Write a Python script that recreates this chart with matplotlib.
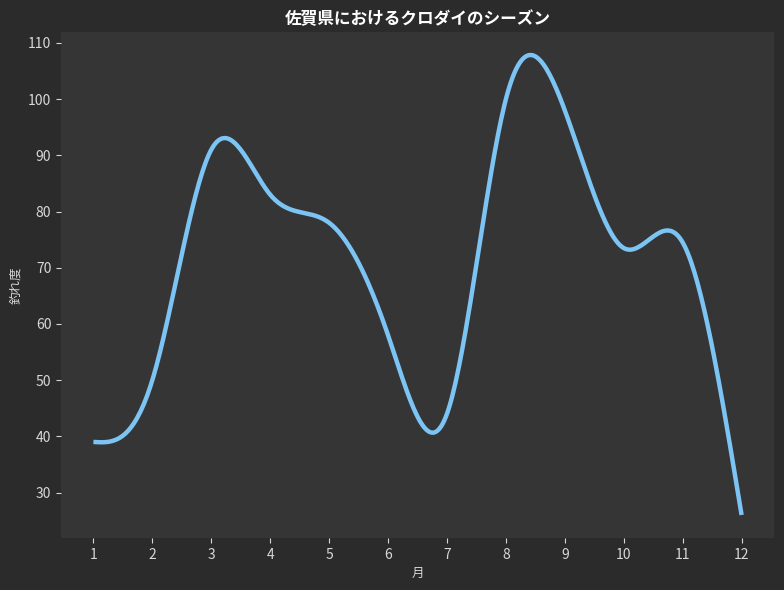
import numpy as np
import matplotlib
matplotlib.use("Agg")
from matplotlib import pyplot as plt
from matplotlib.ticker import MultipleLocator

plt.rcParams["font.family"] = ["Noto Sans CJK JP", "DejaVu Sans"]

months = [1, 2, 3, 4, 5, 6, 7, 8, 9, 10, 11, 12]
score = [39, 50, 91, 83, 78, 58, 44, 100, 98, 73.5, 74.5, 26]


def spline(x, y, n=400):
    # natural cubic spline, uniform spacing
    x = np.asarray(x, float)
    y = np.asarray(y, float)
    k = len(x)
    h = x[1] - x[0]
    A = np.zeros((k, k))
    b = np.zeros(k)
    A[0, 0] = 1
    A[-1, -1] = 1
    for i in range(1, k - 1):
        A[i, i - 1:i + 2] = [1, 4, 1]
        b[i] = 6 * (y[i + 1] - 2 * y[i] + y[i - 1]) / h ** 2
    M = np.linalg.solve(A, b)
    xs = np.linspace(x[0], x[-1], n)
    idx = np.clip(((xs - x[0]) // h).astype(int), 0, k - 2)
    t = (xs - x[idx]) / h
    u = 1 - t
    ys = (u * y[idx] + t * y[idx + 1]
          + ((u ** 3 - u) * M[idx] + (t ** 3 - t) * M[idx + 1]) * h ** 2 / 6)
    return xs, ys


xs, ys = spline(months, score)

fig = plt.figure(figsize=(7.84, 5.9), dpi=100, facecolor="#2b2b2b")
ax = fig.add_axes([61 / 784, 52 / 590, 713 / 784, 506 / 590])
ax.set_facecolor("#353535")
ax.plot(xs, ys, color="#7cc4f4", linewidth=3.2, solid_capstyle="butt")

ax.set_xticks(months)
ax.yaxis.set_major_locator(MultipleLocator(10))
for s in ax.spines.values():
    s.set_visible(False)
ax.tick_params(colors="#d8d8d8", labelsize=10, length=3.5)
ax.set_title("佐賀県におけるクロダイのシーズン", color="white",
             fontsize=12, fontweight="bold", pad=6)
ax.set_xlabel("月", color="#d8d8d8", fontsize=9)
ax.set_ylabel("釣れ度", color="#d8d8d8", fontsize=9)

fig.savefig("out.png", dpi=100, facecolor=fig.get_facecolor())
